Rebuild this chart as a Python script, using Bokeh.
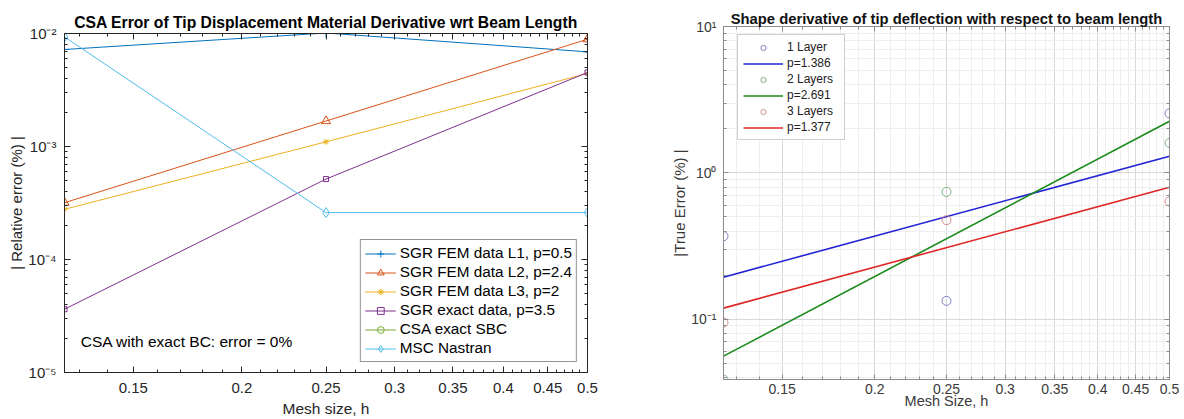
from bokeh.plotting import figure
from bokeh.models import (Range1d, FixedTicker, CustomJSTickFormatter, LogAxis,
                          Legend, LegendItem, Label)
from bokeh.layouts import row
from bokeh.embed import file_html
from bokeh.resources import INLINE

FONT = "Liberation Sans"

# ---------------- Left panel data ----------------
h = [0.125, 0.25, 0.5]
sgr_l1 = [0.00722, 0.0101, 0.00688]
sgr_l2 = [0.000318, 0.00168, 0.0089]
sgr_l3 = [0.000278, 0.00110, 0.00443]
sgr_exact = [3.63e-5, 0.000515, 0.00452]
csa_sbc = [0.0, 0.0, 0.0]      # error is exactly 0 -> not drawable on a log axis
nastran = [0.00933, 0.000260, 0.000260]
left_labels = ["SGR FEM data L1, p=0.5", "SGR FEM data L2, p=2.4",
               "SGR FEM data L3, p=2", "SGR exact data, p=3.5",
               "CSA exact SBC", "MSC Nastran"]
left_title = "CSA Error of Tip Displacement Material Derivative wrt Beam Length"
left_note = "CSA with exact BC: error = 0%"

# ---------------- Right panel data ----------------
h_pts = [0.125, 0.25, 0.5]
layer1 = [0.369, 0.1334, 2.55]
layer2 = [0.0387, 0.741, 1.60]
layer3 = [0.0948, 0.475, 0.637]
h_fit = [0.125, 0.5]
fit1 = [0.1936, 1.30]
fit2 = [0.0559, 2.25]
fit3 = [0.119, 0.798]
right_labels = ["1 Layer", "p=1.386", "2 Layers", "p=2.691", "3 Layers", "p=1.377"]
right_title = "Shape derivative of tip deflection with respect to beam length"

# ---------------- ticks ----------------
x_major = [0.15, 0.2, 0.25, 0.3, 0.35, 0.4, 0.45, 0.5]
x_minor = [round(0.13 + 0.01 * i, 2) for i in range(37)]
x_minor = [t for t in x_minor if t not in x_major]
y_major_left = [1e-5, 1e-4, 1e-3, 1e-2]
y_major_right = [1e-1, 1e0, 1e1]
y_minor = [m * 10.0 ** e for e in range(-6, 2) for m in range(2, 10)]


def pow10_fmt():
    return CustomJSTickFormatter(code="""
const e = Math.round(Math.log10(tick));
const m = {'-':'\u207b','0':'\u2070','1':'\u00b9','2':'\u00b2','3':'\u00b3','4':'\u2074',
           '5':'\u2075','6':'\u2076','7':'\u2077','8':'\u2078','9':'\u2079'};
return '10' + String(e).split('').map(c => m[c]).join('');
""")


def dec_fmt():
    return CustomJSTickFormatter(code="return String(parseFloat(tick.toFixed(2)));")


def blank_fmt():
    return CustomJSTickFormatter(code="return '';")


def style_axis(ax, ticker, formatter, color, text_color, size, standoff,
               label, label_size, label_standoff, tick_len=6, minor_len=3):
    ax.ticker = ticker
    ax.formatter = formatter
    ax.major_tick_in = tick_len
    ax.major_tick_out = 0
    ax.minor_tick_in = minor_len
    ax.minor_tick_out = 0
    ax.axis_line_color = color
    ax.major_tick_line_color = color
    ax.minor_tick_line_color = color
    ax.major_label_text_font = FONT
    ax.major_label_text_font_size = size
    ax.major_label_text_color = text_color
    ax.major_label_standoff = standoff
    ax.axis_label = label
    ax.axis_label_text_font = FONT
    ax.axis_label_text_font_size = label_size
    ax.axis_label_text_font_style = "normal"
    ax.axis_label_text_color = text_color
    ax.axis_label_standoff = label_standoff


def add_box_axes(p, xt, yt, color, tick_len=6, minor_len=3):
    for loc, tk in (("above", xt), ("right", yt)):
        ax = LogAxis(ticker=tk, formatter=blank_fmt(), major_tick_in=tick_len,
                     major_tick_out=0, minor_tick_in=minor_len, minor_tick_out=0,
                     major_label_standoff=0, major_label_text_font_size="0px",
                     axis_line_color=color, major_tick_line_color=color,
                     minor_tick_line_color=color)
        p.add_layout(ax, loc)


# ================= Left figure =================
C_TXT = "#262626"
p1 = figure(width=600, height=419, x_axis_type="log", y_axis_type="log",
            x_range=Range1d(0.125, 0.5), y_range=Range1d(1e-5, 1e-2),
            output_backend="svg", toolbar_location=None, frame_align=False,
            min_border_left=64, min_border_right=13, min_border_top=33,
            min_border_bottom=46)
p1.title.text = left_title
p1.title.text_font = FONT
p1.title.text_font_size = "15.7px"
p1.title.text_font_style = "bold"
p1.title.text_color = "#000000"
p1.title.align = "center"
p1.title.standoff = 5
p1.xgrid.visible = False
p1.ygrid.visible = False
p1.outline_line_color = C_TXT
p1.outline_line_alpha = 1

xt1 = FixedTicker(ticks=x_major, minor_ticks=x_minor)
yt1 = FixedTicker(ticks=y_major_left, minor_ticks=y_minor)
style_axis(p1.below[0], xt1, dec_fmt(), C_TXT, C_TXT, "15px", 10,
           "Mesh size, h", "15.5px", 4)
style_axis(p1.left[0], yt1, pow10_fmt(), C_TXT, C_TXT, "15px", 8,
           "| Relative error (%) |", "15px", 0)
add_box_axes(p1, xt1, yt1, C_TXT)

colors = ["#0072BD", "#D95319", "#EDB120", "#7E2F8E", "#77AC30", "#4DBEEE"]
series = [(sgr_l1, "cross", 9), (sgr_l2, "triangle", 9),
          (sgr_l3, "asterisk", 6), (sgr_exact, "square", 5),
          (csa_sbc, "circle", 7), (nastran, "diamond", 10)]
items = []
for (ys, mk, sz), col, lab in zip(series, colors, left_labels):
    lr = p1.line(h, ys, line_color=col, line_width=1)
    sr = p1.scatter(h, ys, marker=mk, size=sz, line_color=col,
                    fill_color=None, line_width=1)
    items.append(LegendItem(label=lab, renderers=[lr, sr]))

leg1 = Legend(items=items, location="bottom_right", margin=10, padding=4,
              spacing=1, glyph_width=31, glyph_height=17, label_height=17,
              label_standoff=4, label_text_font=FONT,
              label_text_font_size="15.3px", label_text_color="#000000",
              border_line_color=C_TXT, border_line_width=1,
              background_fill_color="white", background_fill_alpha=1)
p1.add_layout(leg1)

p1.add_layout(Label(x=0.1305, y=1.9e-5, text=left_note, text_baseline="middle",
                    text_font=FONT, text_font_size="15.5px", text_color="#000000"))

# ================= Right figure =================
C2_AX = "#8c8c8c"
C2_TXT = "#3a3a3a"
p2 = figure(width=584, height=419, x_axis_type="log", y_axis_type="log",
            x_range=Range1d(0.125, 0.5), y_range=Range1d(0.0387, 10),
            output_backend="svg", toolbar_location=None, frame_align=False,
            min_border_left=123, min_border_right=15, min_border_top=26,
            min_border_bottom=40)
p2.title.text = right_title
p2.title.text_font = FONT
p2.title.text_font_size = "14.8px"
p2.title.text_font_style = "bold"
p2.title.text_color = "#111111"
p2.title.align = "center"
p2.title.standoff = 0
p2.outline_line_color = C2_AX

xt2 = FixedTicker(ticks=x_major, minor_ticks=x_minor)
yt2 = FixedTicker(ticks=y_major_right, minor_ticks=y_minor)
style_axis(p2.below[0], xt2, dec_fmt(), C2_AX, C2_TXT, "14px", 4,
           "Mesh Size, h", "14.5px", -4, tick_len=5, minor_len=3)
style_axis(p2.left[0], yt2, pow10_fmt(), C2_AX, C2_TXT, "14px", 7,
           "|True Error (%) |", "15px", 0, tick_len=5, minor_len=3)
add_box_axes(p2, xt2, yt2, C2_AX, tick_len=5, minor_len=3)

for g in (p2.xgrid, p2.ygrid):
    g.grid_line_color = "#d9d9d9"
    g.grid_line_width = 1
    g.minor_grid_line_color = "#eeeeee"
    g.minor_grid_line_width = 1
p2.xgrid.ticker = xt2
p2.ygrid.ticker = yt2

line_cols = ["#2323d6", "#1a8a1a", "#e02828"]
pt_cols = ["#8080c8", "#80b080", "#d88a8a"]
pts = [layer1, layer2, layer3]
fits = [fit1, fit2, fit3]
items2 = []
for i in range(3):
    sr = p2.scatter(h_pts, pts[i], marker="circle", size=9, fill_color=None,
                    line_color=pt_cols[i], line_width=1)
    lr = p2.line(h_fit, fits[i], line_color=line_cols[i], line_width=1.6)
    items2.append(LegendItem(label=right_labels[2 * i], renderers=[sr]))
    items2.append(LegendItem(label=right_labels[2 * i + 1], renderers=[lr]))

leg2 = Legend(items=items2, location=(14, 239), padding=5, spacing=2,
              glyph_width=40, glyph_height=13, label_height=13, label_width=52,
              label_standoff=4, label_text_font=FONT,
              label_text_font_size="12px", label_text_color="#222222",
              border_line_color="#a0a0a0", border_line_width=1,
              background_fill_color="white", background_fill_alpha=1)
p2.add_layout(leg2)

layout = row(p1, p2)
open("out.html", "w").write(file_html(layout, INLINE))
